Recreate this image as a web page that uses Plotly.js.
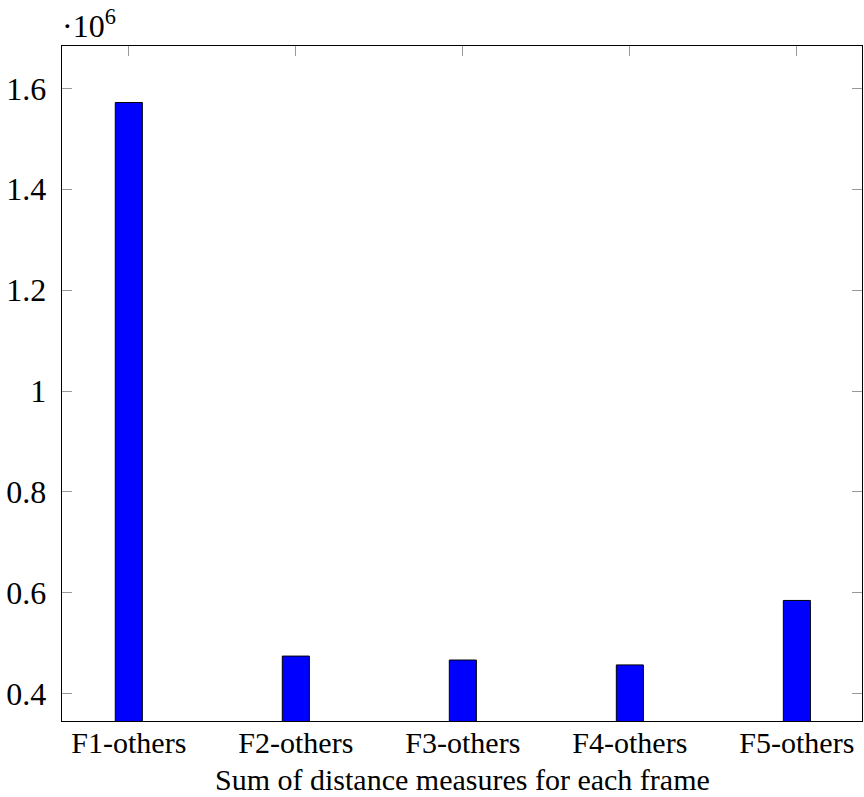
<!DOCTYPE html>
<html>
<head>
<meta charset="utf-8">
<script src="https://cdn.plot.ly/plotly-3.0.1.min.js"></script>
<style>html,body{margin:0;padding:0;background:#fff;}#chart{width:864px;height:797px;}</style>
</head>
<body>
<div id="chart"></div>
<script>
const categories = ["F1-others", "F2-others", "F3-others", "F4-others", "F5-others"];
const values = [1.572e6, 0.4745e6, 0.4667e6, 0.457e6, 0.5848e6];
const yTickVals = [0.4e6, 0.6e6, 0.8e6, 1.0e6, 1.2e6, 1.4e6, 1.6e6];
const yTickText = ["0.4", "0.6", "0.8", "1", "1.2", "1.4", "1.6"];
const xTitle = "Sum of distance measures for each frame";

const font = {family: "Liberation Serif", size: 32, color: "#000"};
const xfont = {family: "Liberation Serif", size: 30, color: "#000"};

const trace = {
  type: "bar",
  x: categories.map((c, i) => i),
  y: values,
  width: 0.162,
  marker: {color: "#0000ff", line: {color: "#000", width: 1}},
  hoverinfo: "none"
};

const layout = {
  width: 864, height: 797,
  margin: {l: 62, r: 2, t: 46, b: 76},
  paper_bgcolor: "#fff", plot_bgcolor: "#fff",
  font: font,
  showlegend: false,
  xaxis: {
    range: [-0.4, 4.39],
    tickvals: categories.map((c, i) => i),
    ticktext: categories,
    ticks: "inside", ticklen: 10, tickcolor: "#999", tickwidth: 1,
    showline: true, linecolor: "#000", linewidth: 1.3, mirror: "ticks",
    showgrid: false, zeroline: false,
    layer: "below traces",
    tickfont: xfont,
    ticklabelstandoff: -5
  },
  yaxis: {
    range: [0.3458e6, 1.684e6],
    tickvals: yTickVals,
    ticktext: yTickText,
    ticks: "inside", ticklen: 10, tickcolor: "#999", tickwidth: 1,
    showline: true, linecolor: "#000", linewidth: 1.3, mirror: "ticks",
    showgrid: false, zeroline: false,
    layer: "below traces",
    tickfont: font,
    ticklabelstandoff: 8
  },
  annotations: [{
    xref: "paper", yref: "paper", x: 0, y: 1, xanchor: "left", yanchor: "bottom",
    yshift: 0, xshift: -2,
    text: "·10<sup>6</sup>", showarrow: false, font: font
  }, {
    xref: "paper", yref: "paper", x: 0.5, y: 0, xanchor: "center", yanchor: "bottom",
    yshift: -77, text: xTitle, showarrow: false, font: xfont
  }]
};

Plotly.newPlot("chart", [trace], layout, {staticPlot: true, displayModeBar: false});
</script>
</body>
</html>
